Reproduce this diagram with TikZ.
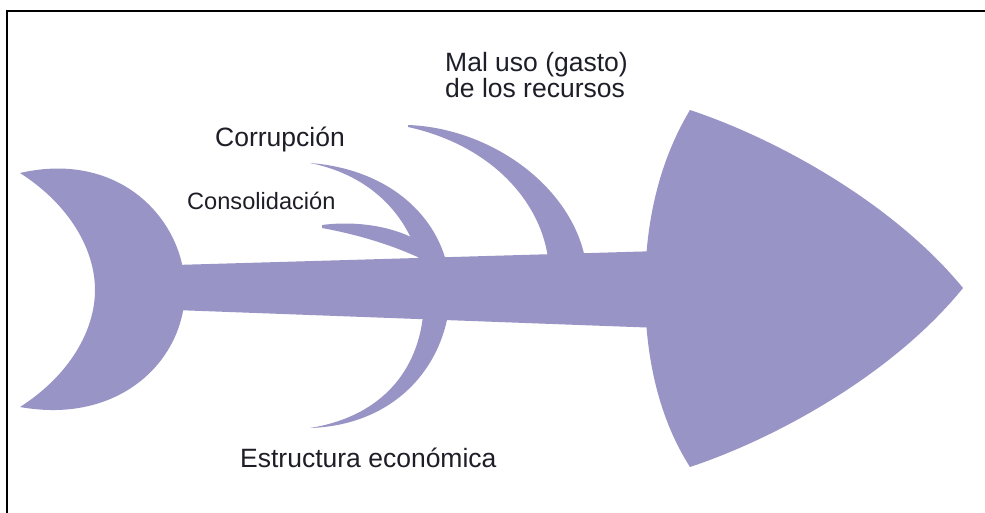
\documentclass[tikz,border=0pt]{standalone}
\usepackage{fontspec}
\setmainfont{Liberation Sans}
\definecolor{fishfill}{RGB}{152,149,198}
\definecolor{labeltext}{RGB}{30,30,40}
\tikzset{
  fishpart/.style={fill=fishfill, draw=none},
  frameline/.style={draw=black, line width=2pt},
  biglabel/.style={inner sep=0pt, anchor=base west, text=labeltext, font=\fontsize{26.5}{30}\selectfont},
  smalllabel/.style={inner sep=0pt, anchor=base west, text=labeltext, font=\fontsize{23.6}{27}\selectfont}
}
\begin{document}
\begin{tikzpicture}[x=1pt,y=-1pt]
\useasboundingbox (0,0) rectangle (985,513);
\fill[white] (0,0) rectangle (985,513);
% frame (left and top only)
\coordinate (fl) at (7,513);
\coordinate (fc) at (7,11);
\coordinate (fr) at (985,11);
\draw[frameline] (fl) -- (fc) -- (fr);
% tail crescent
\fill[fishpart] (20,173) .. controls (120,150) and (185,220) .. (185,290)
  .. controls (185,360) and (120,425) .. (20,407)
  .. controls (70,375) and (95,330) .. (95,290)
  .. controls (95,250) and (70,205) .. (20,173) -- cycle;
% spine
\fill[fishpart] (175,265) -- (660,251) -- (660,328) -- (175,310) -- cycle;
% head
\fill[fishpart] (690,110) .. controls (780,140) and (895,205) .. (963,288)
  .. controls (895,372) and (780,437) .. (690,467)
  .. controls (660,420) and (645,360) .. (645,290)
  .. controls (645,220) and (660,160) .. (690,110) -- cycle;
% Corrupcion / Estructura economica bone
\fill[fishpart] (310,163) .. controls (400,170) and (452,230) .. (450,295)
  .. controls (448,360) and (400,425) .. (310,428)
  .. controls (390,415) and (425,360) .. (424,295)
  .. controls (423,235) and (385,178) .. (310,163) -- cycle;
% Consolidacion bone
\fill[fishpart] (322,225) .. controls (360,220) and (398,228) .. (420,242)
  -- (424,260) .. controls (395,246) and (360,235) .. (322,228) -- cycle;
% Mal uso bone
\fill[fishpart] (408,125) .. controls (490,128) and (570,185) .. (585,258)
  -- (548,258) .. controls (540,200) and (490,145) .. (408,127) -- cycle;
% labels
\node[biglabel] (malA) at (445,72) {Mal uso (gasto)};
\node[biglabel] (malB) at (445,98) {de los recursos};
\node[biglabel] (corr) at (215,147) {Corrupción};
\node[smalllabel] (cons) at (187,210) {Consolidación};
\node[biglabel] (estr) at (240,467) {Estructura económica};
\end{tikzpicture}
\end{document}
